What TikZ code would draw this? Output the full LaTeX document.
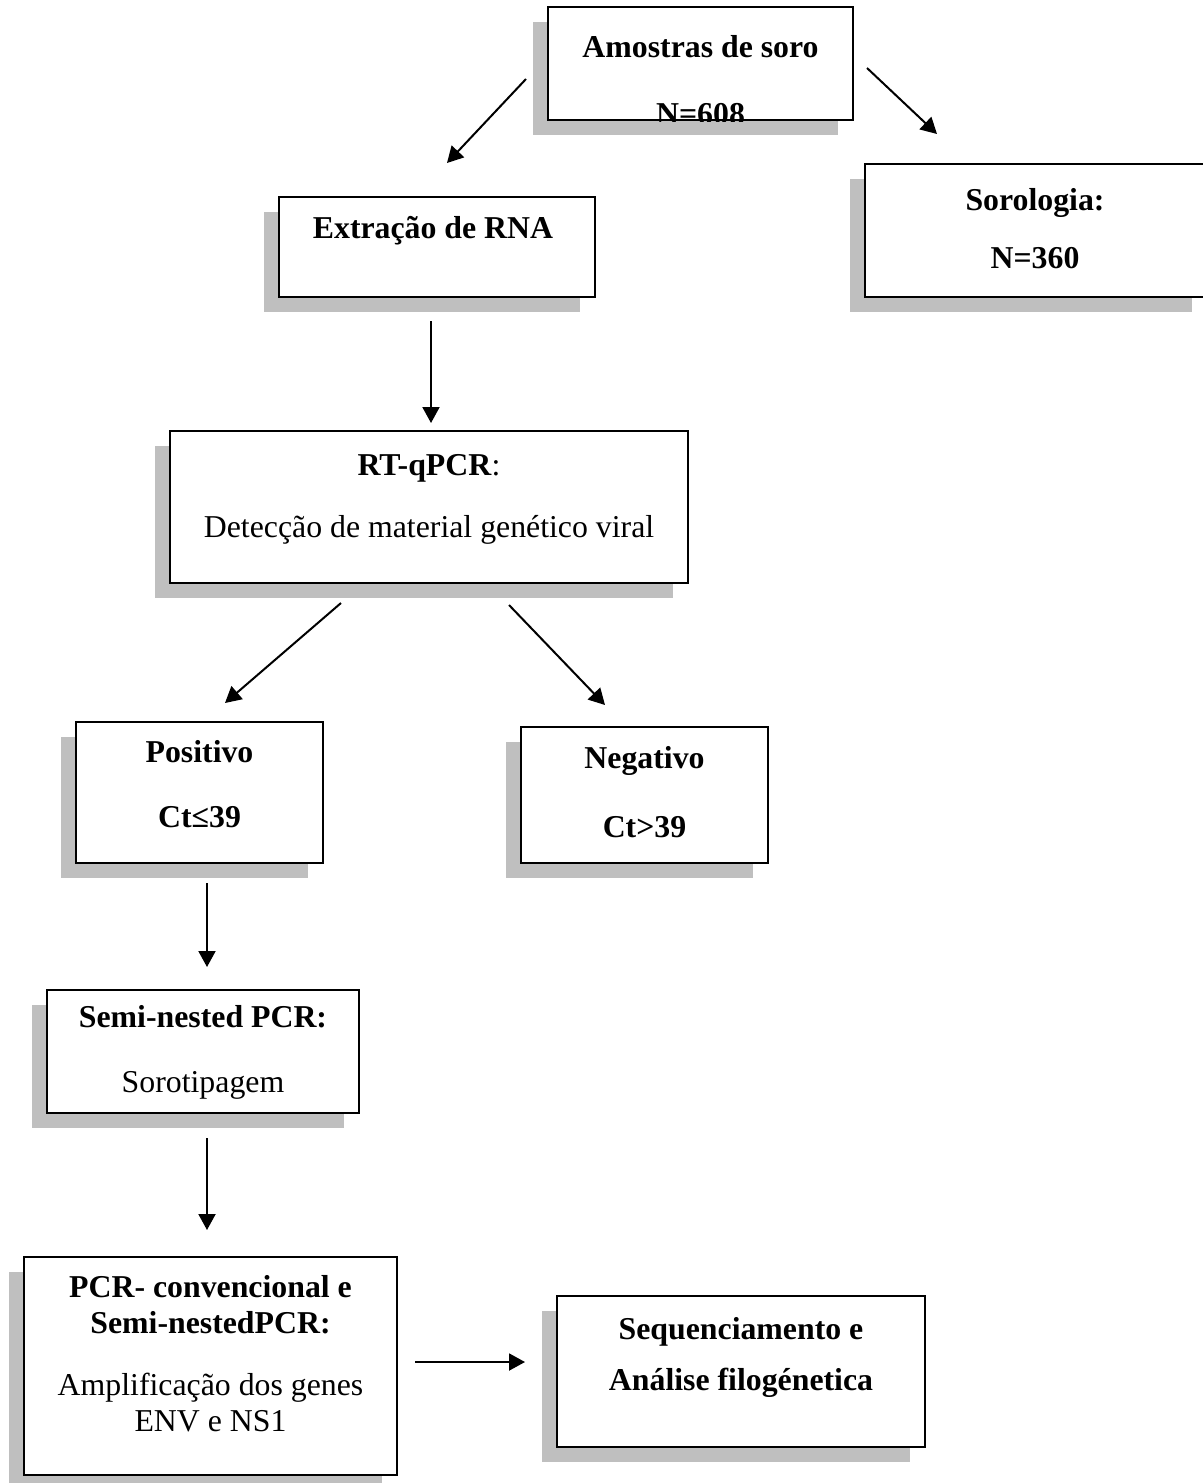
\documentclass[tikz,border=0pt]{standalone}
\usepackage{fontspec}
\setmainfont{Liberation Serif}
\usetikzlibrary{arrows.meta,shadows}

\begin{document}
\begin{tikzpicture}[x=0.5pt,y=-0.5pt,
  caixa/.style={draw,line width=1pt,fill=white,inner sep=0pt,
    drop shadow={shadow xshift=-7.5pt,shadow yshift=-7.5pt,fill=black!25,opacity=1}},
  texto/.style={align=center,inner sep=0pt,font=\fontsize{15.9}{18}\selectfont},
  seta/.style={line width=1pt,-{Triangle[length=8pt,width=8.5pt]}}]
\useasboundingbox (0,0) rectangle (1203,1483);

% caixas
\node[caixa,minimum width=152.5pt,minimum height=56.5pt] (amostras) at (700.5,63.5) {};
\node[caixa,minimum width=171pt,minimum height=66.5pt] (sorologia) at (1036,230.5) {};
\node[caixa,minimum width=158pt,minimum height=50pt] (extracao) at (437,247) {};
\node[caixa,minimum width=259pt,minimum height=76pt] (rtqpcr) at (429,507) {};
\node[caixa,minimum width=123.5pt,minimum height=70.5pt] (positivo) at (199.5,792.5) {};
\node[caixa,minimum width=123.5pt,minimum height=68pt] (negativo) at (644.5,795) {};
\node[caixa,minimum width=156pt,minimum height=61.5pt] (seminested) at (203,1051.5) {};
\node[caixa,minimum width=186.5pt,minimum height=109pt] (convencional) at (210.5,1366) {};
\node[caixa,minimum width=184pt,minimum height=75.5pt] (sequenciamento) at (741,1371.5) {};

% textos
\begin{scope}
\clip (amostras.south west) rectangle (amostras.north east);
\node[texto,anchor=base] (amostras-t1) at (700.5,57) {\textbf{Amostras de soro}};
\node[texto,anchor=base] (amostras-t2) at (700.5,124) {\textbf{N=608}};
\end{scope}
\node[texto] (sorologia-t) at (1035,229) {\textbf{Sorologia:}\\[11pt]\textbf{N=360}};
\node[texto] (extracao-t) at (433,231) {\textbf{Extração de RNA}};
\node[texto] (rtqpcr-t) at (429,499) {\textbf{RT-qPCR}:\\[13pt]Detecção de material genético viral};
\node[texto] (positivo-t) at (199.5,784.5) {\textbf{Positivo}\\[14.5pt]\textbf{Ct≤39}};
\node[texto] (negativo-t) at (644.5,792.5) {\textbf{Negativo}\\[16.5pt]\textbf{Ct>39}};
\node[texto] (seminested-t) at (203,1052.5) {\textbf{Semi-nested PCR:}\\[14.5pt]Sorotipagem};
\node[texto] (convencional-t) at (210.5,1354) {\textbf{PCR- convencional e}\\\textbf{Semi-nestedPCR:}\\[13pt]Amplificação dos genes\\ENV e NS1};
\node[texto] (sequenciamento-t) at (741,1357.5) {\textbf{Sequenciamento e}\\[7.5pt]\textbf{Análise filogénetica}};

% setas
\coordinate (a1) at (526,79);   \coordinate (a2) at (447,163);
\coordinate (b1) at (867,68);   \coordinate (b2) at (937,134);
\coordinate (c1) at (431,321);  \coordinate (c2) at (431,423);
\coordinate (d1) at (341,603);  \coordinate (d2) at (225,703);
\coordinate (e1) at (509,605);  \coordinate (e2) at (605,705);
\coordinate (f1) at (207,883);  \coordinate (f2) at (207,967);
\coordinate (g1) at (207,1138); \coordinate (g2) at (207,1230);
\coordinate (h1) at (415,1362); \coordinate (h2) at (525,1362);
\draw[seta] (a1) -- (a2);
\draw[seta] (b1) -- (b2);
\draw[seta] (c1) -- (c2);
\draw[seta] (d1) -- (d2);
\draw[seta] (e1) -- (e2);
\draw[seta] (f1) -- (f2);
\draw[seta] (g1) -- (g2);
\draw[seta] (h1) -- (h2);
\end{tikzpicture}
\end{document}
